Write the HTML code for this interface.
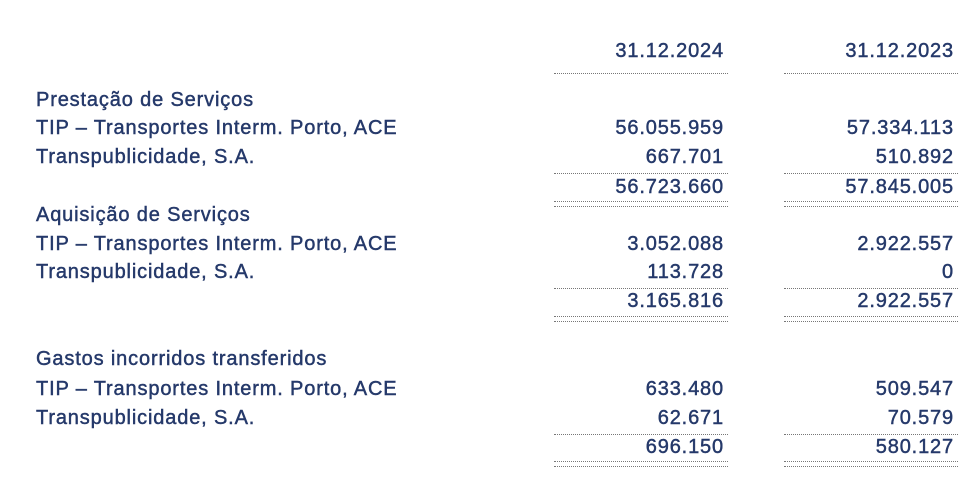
<!DOCTYPE html>
<html><head><meta charset="utf-8"><style>
body{margin:0;width:980px;height:487px;background:#fff;position:relative;overflow:hidden;font-family:"Liberation Sans",sans-serif;color:#25396a;}
.t{position:absolute;font-size:20px;line-height:20px;white-space:nowrap;letter-spacing:0.85px;-webkit-text-stroke:0.45px #25396a;}
.l{left:36px}
.a{right:256px;text-align:right}
.b{right:26px;text-align:right}
.ln{position:absolute;height:0;border-top:1.5px dotted #777;}
.c1{left:554px;width:174px}
.c2{left:784px;width:174px}
</style></head><body>
<div class="t a" style="top:41px">31.12.2024</div>
<div class="t b" style="top:41px">31.12.2023</div>
<div class="ln c1" style="top:73px"></div><div class="ln c2" style="top:73px"></div>

<div class="t l" style="top:90px">Prestação de Serviços</div>
<div class="t l" style="top:118px">TIP – Transportes Interm. Porto, ACE</div>
<div class="t a" style="top:118px">56.055.959</div><div class="t b" style="top:118px">57.334.113</div>
<div class="t l" style="top:147px">Transpublicidade, S.A.</div>
<div class="t a" style="top:147px">667.701</div><div class="t b" style="top:147px">510.892</div>
<div class="ln c1" style="top:173px"></div><div class="ln c2" style="top:173px"></div>
<div class="t a" style="top:177px">56.723.660</div><div class="t b" style="top:177px">57.845.005</div>
<div class="ln c1" style="top:201px"></div><div class="ln c2" style="top:201px"></div>
<div class="ln c1" style="top:206px"></div><div class="ln c2" style="top:206px"></div>

<div class="t l" style="top:205px">Aquisição de Serviços</div>
<div class="t l" style="top:234px">TIP – Transportes Interm. Porto, ACE</div>
<div class="t a" style="top:234px">3.052.088</div><div class="t b" style="top:234px">2.922.557</div>
<div class="t l" style="top:262px">Transpublicidade, S.A.</div>
<div class="t a" style="top:262px">113.728</div><div class="t b" style="top:262px">0</div>
<div class="ln c1" style="top:288px"></div><div class="ln c2" style="top:288px"></div>
<div class="t a" style="top:291px">3.165.816</div><div class="t b" style="top:291px">2.922.557</div>
<div class="ln c1" style="top:316px"></div><div class="ln c2" style="top:316px"></div>
<div class="ln c1" style="top:321px"></div><div class="ln c2" style="top:321px"></div>

<div class="t l" style="top:349px">Gastos incorridos transferidos</div>
<div class="t l" style="top:379px">TIP – Transportes Interm. Porto, ACE</div>
<div class="t a" style="top:379px">633.480</div><div class="t b" style="top:379px">509.547</div>
<div class="t l" style="top:408px">Transpublicidade, S.A.</div>
<div class="t a" style="top:408px">62.671</div><div class="t b" style="top:408px">70.579</div>
<div class="ln c1" style="top:434px"></div><div class="ln c2" style="top:434px"></div>
<div class="t a" style="top:437px">696.150</div><div class="t b" style="top:437px">580.127</div>
<div class="ln c1" style="top:461px"></div><div class="ln c2" style="top:461px"></div>
<div class="ln c1" style="top:466px"></div><div class="ln c2" style="top:466px"></div>
</body></html>
